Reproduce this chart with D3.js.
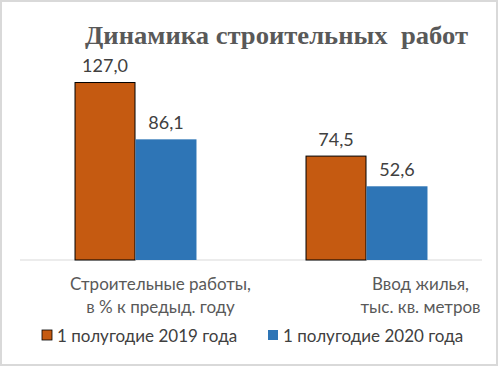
<!DOCTYPE html>
<html><head><meta charset="utf-8">
<script src="https://cdn.jsdelivr.net/npm/d3@7"></script>
<style>html,body{margin:0;padding:0;background:#fff;}svg{display:block;}</style>
</head><body>
<script>
const categories = [["Строительные работы,", "в % к предыд. году"], ["Ввод жилья,", "тыс. кв. метров"]];
const seriesNames = ["1 полугодие 2019 года", "1 полугодие 2020 года"];
const values2019 = [127.0, 74.5];
const values2020 = [86.1, 52.6];
const colors = ["#C55A11", "#2E75B6"];
const title = "Динамика строительных\u00A0\u00A0работ";

const W = 498, H = 366;
const svg = d3.select("body").append("svg").attr("width", W).attr("height", H);
svg.append("rect").attr("x", 1).attr("y", 1).attr("width", W - 2).attr("height", H - 2)
  .attr("fill", "#fff").attr("stroke", "#d9d9d9").attr("stroke-width", 2);

const bodyFont = "Lato, 'Open Sans', sans-serif";
svg.append("text").attr("x", 85).attr("y", 44)
  .attr("font-family", "'Liberation Serif', 'DejaVu Serif', serif").attr("font-weight", "bold")
  .attr("font-size", 25).attr("fill", "#595959")
  .attr("textLength", 383).attr("lengthAdjust", "spacingAndGlyphs").text(title);

const idx = d3.range(categories.length);
const x = d3.scaleBand().domain(idx).range([20, 482]).paddingInner(0.472).paddingOuter(0.236);
const xs = d3.scaleBand().domain([0, 1]).range([0, x.bandwidth()]);
const y = d3.scaleLinear().domain([0, 140]).range([260, 63.8]);

svg.append("line").attr("x1", 20).attr("x2", 482).attr("y1", y(0)).attr("y2", y(0))
  .attr("stroke", "#d9d9d9").attr("stroke-width", 1);

const series = [values2019, values2020];
series.forEach((vals, s) => {
  const g = svg.append("g");
  g.selectAll("rect").data(vals).join("rect")
    .attr("x", (d, i) => x(i) + xs(s) + (s === 0 ? 0.5 : 0))
    .attr("y", d => y(d) + (s === 0 ? 0.5 : 0))
    .attr("width", xs.bandwidth() - (s === 0 ? 1 : 0))
    .attr("height", d => y(0) - y(d) - (s === 0 ? 0.5 : 0))
    .attr("fill", colors[s])
    .attr("stroke", s === 0 ? "#000" : "none").attr("stroke-width", 1);
  g.selectAll("text").data(vals).join("text")
    .attr("x", (d, i) => x(i) + xs(s) + xs.bandwidth() / 2)
    .attr("y", d => y(d) - 10)
    .attr("text-anchor", "middle").attr("font-family", bodyFont).attr("font-size", 18)
    .attr("fill", "#404040").text(d => d.toFixed(1).replace(".", ","));
});

const labelShift = [25, 54];
categories.forEach((lines, i) => {
  const t = svg.append("text").attr("text-anchor", "middle").attr("font-family", bodyFont)
    .attr("font-size", 17).attr("fill", "#595959");
  lines.forEach((ln, j) => {
    t.append("tspan").attr("x", x(i) + x.bandwidth() / 2 + labelShift[i]).attr("y", 290 + j * 23).text(ln);
  });
});

const legX = [42, 268];
seriesNames.forEach((n, s) => {
  svg.append("rect").attr("x", legX[s]).attr("y", 330).attr("width", 10).attr("height", 10)
    .attr("fill", colors[s]).attr("stroke", s === 0 ? "#000" : "none").attr("stroke-width", 0.8);
  svg.append("text").attr("x", legX[s] + 15).attr("y", 342).attr("font-family", bodyFont)
    .attr("font-size", 17).attr("fill", "#404040").text(n);
});
</script>
</body></html>
